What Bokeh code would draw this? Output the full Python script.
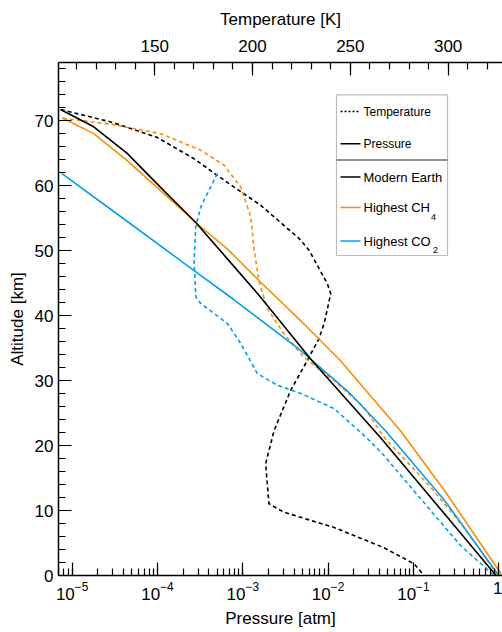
from bokeh.plotting import figure
from bokeh.models import Range1d, LinearAxis, FixedTicker, LogTicker, Label, Arrow, BoxAnnotation, LinearScale
from bokeh.embed import file_html
from bokeh.resources import INLINE

FONT = "Liberation Sans"
BLACK = "#000000"
ORANGE = "#FF8C00"
BLUE = "#00A0F0"

# ---- Pressure profiles (altitude km, pressure atm) ----
me_p_alt = [71.75, 69.1, 65.0, 59.8, 54.4, 48.8, 42.9, 33.2, 21.1, 9.5, 0.0]
me_p_val = [7.3e-6, 1.79e-5, 4.42e-5, 1.08e-4, 2.79e-4, 6.56e-4, 1.61e-3, 6.38e-3,
            4.2e-2, 0.231, 0.93]

ch4_p_alt = [70.5, 68.05, 63.9, 59.3, 54.4, 50.3, 45.2, 39.3, 33.1, 28.9, 22.3, 13.1, 0.0]
ch4_p_val = [7.6e-6, 1.79e-5, 4.42e-5, 1.08e-4, 2.79e-4, 6.56e-4, 1.61e-3, 4.72e-3,
             1.39e-2, 2.6e-2, 7.05e-2, 0.231, 1.096]

co2_p_alt = [61.9, 54.9, 47.0, 42.5, 34.7, 28.0, 22.3, 11.6, 0.0]
co2_p_val = [7.6e-6, 4.05e-5, 2.66e-4, 7.83e-4, 4.72e-3, 1.82e-2, 4.7e-2, 0.231, 1.0]

# ---- Temperature profiles (altitude km, temperature K) ----
me_t_alt = [71.75, 69.85, 67.5, 64.2, 61.4, 57.0, 51.9, 50.1, 44.9, 43.4, 38.8, 36.5,
            33.1, 28.5, 22.3, 17.2, 11.05, 9.75, 7.4, 4.3, 1.8, 0.0]
me_t_val = [102, 127.5, 151, 170, 183, 204.2, 223.8, 228.9, 238.3, 240, 236.6, 234,
            228, 219.5, 211, 206.7, 208.4, 216, 241.7, 267, 282.6, 287.7]

ch4_t_alt = [70.4, 69.5, 68.05, 65.5, 63.2, 59.8, 55.2, 50.1, 45.2, 41.1, 37.2, 33.6,
             30.0, 25.9, 21.2, 13.6, 7.4, 0.0]
ch4_t_val = [103, 127.5, 153, 173.5, 185.4, 194, 199.1, 200.8, 203.4, 207.6, 216.1, 226.3,
             241.7, 257, 267.5, 291.1, 308.1, 325.5]

co2_t_alt = [61.9, 56.75, 53.7, 48.5, 42.9, 41.9, 38.8, 35.7, 31.1, 29.3, 28.0, 25.7,
             21.1, 18.75, 10.0, 4.6, 0.0]
co2_t_val = [182, 173.5, 171, 170.1, 171, 173.5, 187.2, 194, 202.5, 212.7, 225, 241.7,
             258.7, 266.4, 291.1, 306.4, 323.5]

x_major = [150, 200, 250, 300]
x_minor = list(range(110, 330, 10))
y_major = list(range(0, 80, 10))
y_minor = list(range(0, 80, 2))

XMIN, XMAX = -5.16, 0.044
YMAX = 79

# frame placement in page pixels
FL, FR, FT, FB = 58.0, 502.0, 62.0, 575.0
W, H = 502, 632

p = figure(width=W, height=H, x_axis_type="log",
           x_range=Range1d(10 ** XMIN, 10 ** XMAX), y_range=Range1d(0, YMAX),
           output_backend="svg", toolbar_location=None,
           min_border_left=int(FL), min_border_right=0, min_border_top=int(FT),
           min_border_bottom=int(H - FB))
p.extra_x_ranges = {"temp": Range1d(100.8, 327.8)}
p.extra_x_scales = {"temp": LinearScale()}
p.outline_line_color = None
p.grid.visible = False
p.background_fill_color = "white"


def style(ax):
    ax.axis_line_width = 1.5
    ax.axis_line_color = BLACK
    ax.major_tick_in = 13
    ax.major_tick_out = 0
    ax.minor_tick_in = 7
    ax.minor_tick_out = 0
    ax.major_tick_line_width = 1.2
    ax.minor_tick_line_width = 1.2
    ax.major_tick_line_color = BLACK
    ax.minor_tick_line_color = BLACK
    ax.major_label_text_font = FONT
    ax.major_label_text_font_size = "17px"
    ax.major_label_text_color = BLACK
    ax.axis_label_text_font = FONT
    ax.axis_label_text_font_size = "17px"
    ax.axis_label_text_font_style = "normal"
    ax.axis_label_text_color = BLACK


xa = p.xaxis[0]
xa.ticker = LogTicker(num_minor_ticks=10)
xa.major_label_overrides = {1: "1"}
xa.axis_label = "Pressure [atm]"
xa.axis_label_standoff = 6
xa.major_label_standoff = 6
style(xa)

ya = p.yaxis[0]
ya.ticker = FixedTicker(ticks=y_major, minor_ticks=y_minor)
ya.axis_label = "Altitude [km]"
ya.axis_label_standoff = 5
ya.major_label_standoff = 5
style(ya)

ta = LinearAxis(x_range_name="temp", ticker=FixedTicker(ticks=x_major, minor_ticks=x_minor),
                axis_label="Temperature [K]")
ta.axis_label_standoff = 8
ta.major_label_standoff = 11
style(ta)
p.add_layout(ta, "above")

LW = 1.6
DASH = "4 3"
# temperature (dashed) on the top axis range
p.line(me_t_val, me_t_alt, x_range_name="temp", line_color=BLACK, line_width=LW, line_dash=DASH)
p.line(ch4_t_val, ch4_t_alt, x_range_name="temp", line_color=ORANGE, line_width=LW, line_dash=DASH)
p.line(co2_t_val, co2_t_alt, x_range_name="temp", line_color=BLUE, line_width=LW, line_dash=DASH)
# pressure (solid)
p.line(co2_p_val, co2_p_alt, line_color=BLUE, line_width=LW)
p.line(ch4_p_val, ch4_p_alt, line_color=ORANGE, line_width=LW)
p.line(me_p_val, me_p_alt, line_color=BLACK, line_width=LW)


# ---- hand-made legend (positions from frame pixel fractions) ----
def lx(px):
    return 10 ** (XMIN + (px - FL) / (FR - FL) * (XMAX - XMIN))


def ly(py):
    return (FB - py) / (FB - FT) * YMAX


p.add_layout(BoxAnnotation(left=lx(336), right=lx(447), top=ly(94.3), bottom=ly(255),
                           fill_alpha=0, line_color="#222222", line_width=1.2))
p.add_layout(Arrow(end=None, x_start=lx(336), y_start=ly(159.5), x_end=lx(447), y_end=ly(159.5),
                   line_color="#222222", line_width=1.2))

entries = [
    ("Temperature", 111, BLACK, "2 2", "12px"),
    ("Pressure", 143.3, BLACK, None, "12px"),
    ("Modern Earth", 176.5, BLACK, None, "13px"),
    ("Highest CH", 207, ORANGE, None, "13px"),
    ("Highest CO", 240.5, BLUE, None, "13px"),
]
for text, yy, col, dash, fs in entries:
    kw = dict(line_dash=dash) if dash else {}
    p.add_layout(Arrow(end=None, x_start=lx(340), y_start=ly(yy), x_end=lx(360), y_end=ly(yy),
                       line_color=col, line_width=1.5, **kw))
    p.add_layout(Label(x=lx(363), y=ly(yy), text=text, text_baseline="middle", text_align="left",
                       text_font=FONT, text_font_size=fs, text_color=BLACK))

p.add_layout(Label(x=lx(430.5), y=ly(216.5), text="4", text_baseline="middle", text_align="left",
                   text_font=FONT, text_font_size="9px", text_color=BLACK))
p.add_layout(Label(x=lx(432.5), y=ly(249), text="2", text_baseline="middle", text_align="left",
                   text_font=FONT, text_font_size="9px", text_color=BLACK))

open("out.html", "w").write(file_html(p, INLINE))
